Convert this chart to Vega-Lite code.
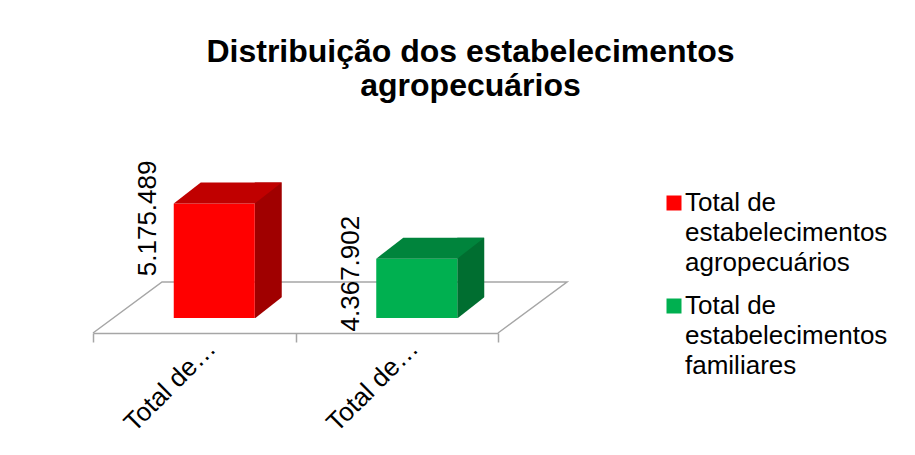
{
  "$schema": "https://vega.github.io/schema/vega-lite/v6.json",
  "width": 405,
  "height": 171,
  "autosize": {"type": "none"},
  "padding": {"left": 93, "top": 162, "right": 417, "bottom": 122},
  "background": "white",
  "config": {
    "font": "Liberation Sans",
    "view": {"stroke": null},
    "style": {"guide-label": {"lineHeight": 30}},
    "locale": {"number": {"decimal": ",", "thousands": ".", "grouping": [3], "currency": ["R$ ", ""]}}
  },
  "title": {
    "text": ["Distribuição dos estabelecimentos", "agropecuários"],
    "font": "Liberation Sans",
    "fontSize": 32,
    "fontWeight": "bold",
    "color": "black",
    "anchor": "middle",
    "dx": 175,
    "offset": 58,
    "lineHeight": 34
  },
  "data": {
    "values": [
      {"cat": "Total de estabelecimentos agropecuários", "valor": 5175489},
      {"cat": "Total de estabelecimentos familiares", "valor": 4367902}
    ]
  },
  "encoding": {
    "x": {
      "field": "cat",
      "type": "nominal",
      "sort": null,
      "scale": {"paddingInner": 0, "paddingOuter": 0},
      "axis": {
        "title": null,
        "grid": false,
        "domainColor": "#a6a6a6",
        "domainWidth": 1.5,
        "tickColor": "#a6a6a6",
        "tickWidth": 1.5,
        "tickSize": 9,
        "tickBand": "extent",
        "labelAngle": -45,
        "labelAlign": "right",
        "labelBaseline": "middle",
        "labelFont": "Liberation Sans",
        "labelFontSize": 26,
        "labelColor": "black",
        "labelOffset": 17,
        "labelPadding": 2,
        "labelLimit": 0,
        "labelExpr": "length(datum.label) > 0 ? slice(datum.label, 0, 8) + '…' : ''"
      }
    },
    "y": {
      "field": "valor",
      "type": "quantitative",
      "scale": {"domain": [3500000, 6000000], "zero": false},
      "axis": null
    }
  },
  "layer": [
    {
      "transform": [{"filter": {"field": "cat", "equal": "Total de estabelecimentos agropecuários"}}],
      "mark": {
        "type": "point",
        "shape": "M-101.25,0L-32.25,-51L372.75,-51L303.75,0",
        "size": 4,
        "filled": false,
        "fill": "transparent",
        "stroke": "#a6a6a6",
        "strokeWidth": 1.5,
        "opacity": 1
      },
      "encoding": {"y": {"datum": 3500000, "type": "quantitative"}}
    },
    {
      "mark": {"type": "bar", "width": 27, "xOffset": 74, "yOffset": -36, "y2Offset": -15},
      "encoding": {
        "y2": {"datum": 3500000},
        "fill": {
          "condition": {"test": "datum.cat == 'Total de estabelecimentos agropecuários'", "value": "#a00000"},
          "value": "#006e30"
        }
      }
    },
    {
      "mark": {
        "type": "point",
        "shape": "M60.5,0.6L88.5,0.6L88.5,-21.5Z",
        "size": 4,
        "filled": true,
        "fill": "white",
        "strokeWidth": 0,
        "opacity": 1
      },
      "encoding": {"y": {"datum": 3500000, "type": "quantitative"}, "yOffset": {"value": -15}}
    },
    {
      "mark": {"type": "bar", "width": {"band": 0.4}, "xOffset": 20, "yOffset": -15, "y2Offset": -15},
      "encoding": {
        "y2": {"datum": 3500000},
        "color": {
          "field": "cat",
          "type": "nominal",
          "sort": null,
          "scale": {"range": ["#ff0000", "#00b050"]},
          "legend": {
            "title": null,
            "orient": "none",
            "legendX": 568,
            "legendY": 28,
            "padding": 0,
            "symbolType": "square",
            "symbolSize": 225,
            "symbolStrokeWidth": 0,
            "labelFont": "Liberation Sans",
            "labelFontSize": 26,
            "labelColor": "black",
            "labelLimit": 400,
            "labelOffset": -2,
            "labelBaseline": "middle",
            "rowPadding": 17,
            "labelExpr": "[slice(datum.label, 0, 8), split(slice(datum.label, 9), ' ')[0], split(slice(datum.label, 9), ' ')[1]]"
          }
        }
      }
    },
    {
      "mark": {
        "type": "point",
        "shape": "M-40.5,0L40.5,0L67.5,-21L-13.5,-21Z",
        "size": 4,
        "filled": true,
        "strokeWidth": 0,
        "opacity": 1,
        "xOffset": 20,
        "yOffset": -15
      },
      "encoding": {
        "fill": {
          "condition": {"test": "datum.cat == 'Total de estabelecimentos agropecuários'", "value": "#c00000"},
          "value": "#00843c"
        }
      }
    },
    {
      "mark": {
        "type": "text",
        "angle": 270,
        "align": "center",
        "baseline": "middle",
        "font": "Liberation Sans",
        "fontSize": 26,
        "color": "black",
        "xOffset": -46
      },
      "encoding": {"text": {"field": "valor", "type": "quantitative", "format": ",d"}}
    }
  ]
}
